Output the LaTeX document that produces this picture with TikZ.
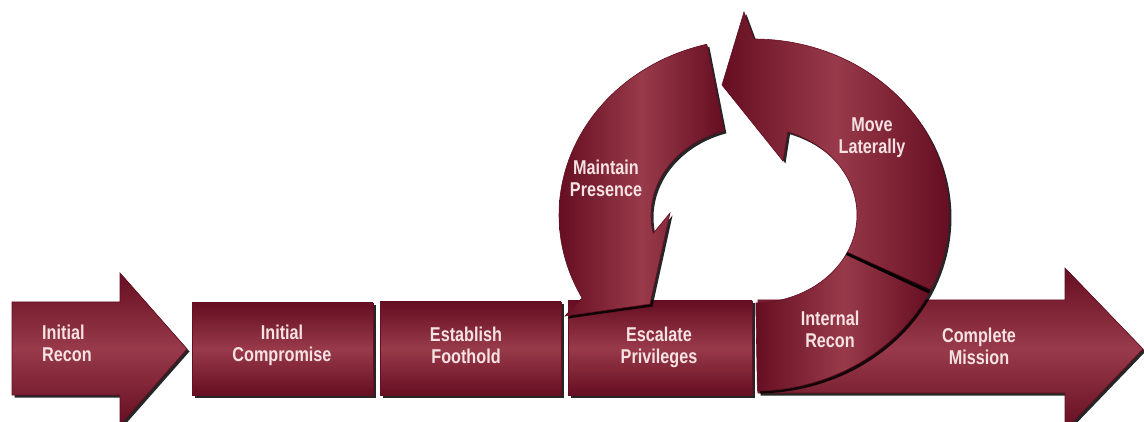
\documentclass[tikz,border=0pt]{standalone}
\usepackage{fontspec}
\newfontfamily\lblfont{Liberation Sans}[FakeStretch=0.81]
\usetikzlibrary{shadows}
\definecolor{mdark}{RGB}{102,14,34}
\definecolor{mlight}{RGB}{152,58,74}
\definecolor{txt}{RGB}{246,226,226}
\begin{document}
\begin{tikzpicture}[x=1pt,y=-1pt,
  sh/.style={drop shadow={fill=black,opacity=0.85,shadow xshift=2.5pt,shadow yshift=-2.5pt}},
  boxv/.style={sh, draw=mdark, line width=0.6pt, top color=mdark, bottom color=mdark, middle color=mlight},
  ringh/.style={sh, draw=mdark, line width=0.6pt, left color=mdark, right color=mdark, middle color=mlight},
  lbl/.style={text=txt, font=\lblfont\bfseries\fontsize{20}{22}\selectfont, align=center, inner sep=0pt}]
\useasboundingbox (0,0) rectangle (1144,422);
\fill[white] (0,0) rectangle (1144,422);
% straight boxes
\path[boxv] (12,302) -- (120,302) -- (120,273) -- (187,349) -- (120,425) -- (120,395) -- (12,395) -- cycle;
\path[boxv] (192,303) rectangle (373,395);
\path[boxv] (380,302) rectangle (561,395);
\path[boxv] (568,301) rectangle (752,395);
\path[boxv] (758,300) -- (1065,300) -- (1065,268) -- (1143,349) -- (1065,430) -- (1065,393) -- (758,393) -- cycle;
% Maintain Presence
\path[ringh] plot[domain=104:205,samples=50] ({754+195*cos(\x)},{215-176*sin(\x)})
  -- (582,298) -- (565,316) -- (650,304) -- (670,213)
  -- plot[domain=192:107,samples=50] ({754+103*cos(\x)},{215-88*sin(\x)}) -- cycle;
% Internal Recon
\path[ringh] plot[domain=-25:-89,samples=40] ({754+195*cos(\x)},{215-176*sin(\x)})
  -- plot[domain=-89:-25,samples=40] ({754+103*cos(\x)},{215-88*sin(\x)}) -- cycle;
% Move Laterally
\path[ringh] plot[domain=-25:90,samples=60] ({754+195*cos(\x)},{215-176*sin(\x)})
  -- (744,12) -- (722,85) -- (783,161)
  -- plot[domain=71:-25,samples=60] ({754+103*cos(\x)},{215-88*sin(\x)}) -- cycle;
\draw[black, line width=2.8pt] ({754+103*cos(-26)},{215-88*sin(-26)}) -- ({754+195*cos(-26)},{215-176*sin(-26)});
% labels
\node[lbl, align=left] (ir) at (67,343) {Initial\\Recon};
\node[lbl] (ic) at (282,345) {Initial\\Compromise};
\node[lbl] (ef) at (466,345) {Establish\\Foothold};
\node[lbl] (ep) at (659,347) {Escalate\\Privileges};
\node[lbl] (inr) at (830,329) {Internal\\Recon};
\node[lbl] (cm) at (979,346) {Complete\\Mission};
\node[lbl] (mp) at (606,178) {Maintain\\Presence};
\node[lbl] (ml) at (872,138) {Move\\Laterally};
\end{tikzpicture}
\end{document}
